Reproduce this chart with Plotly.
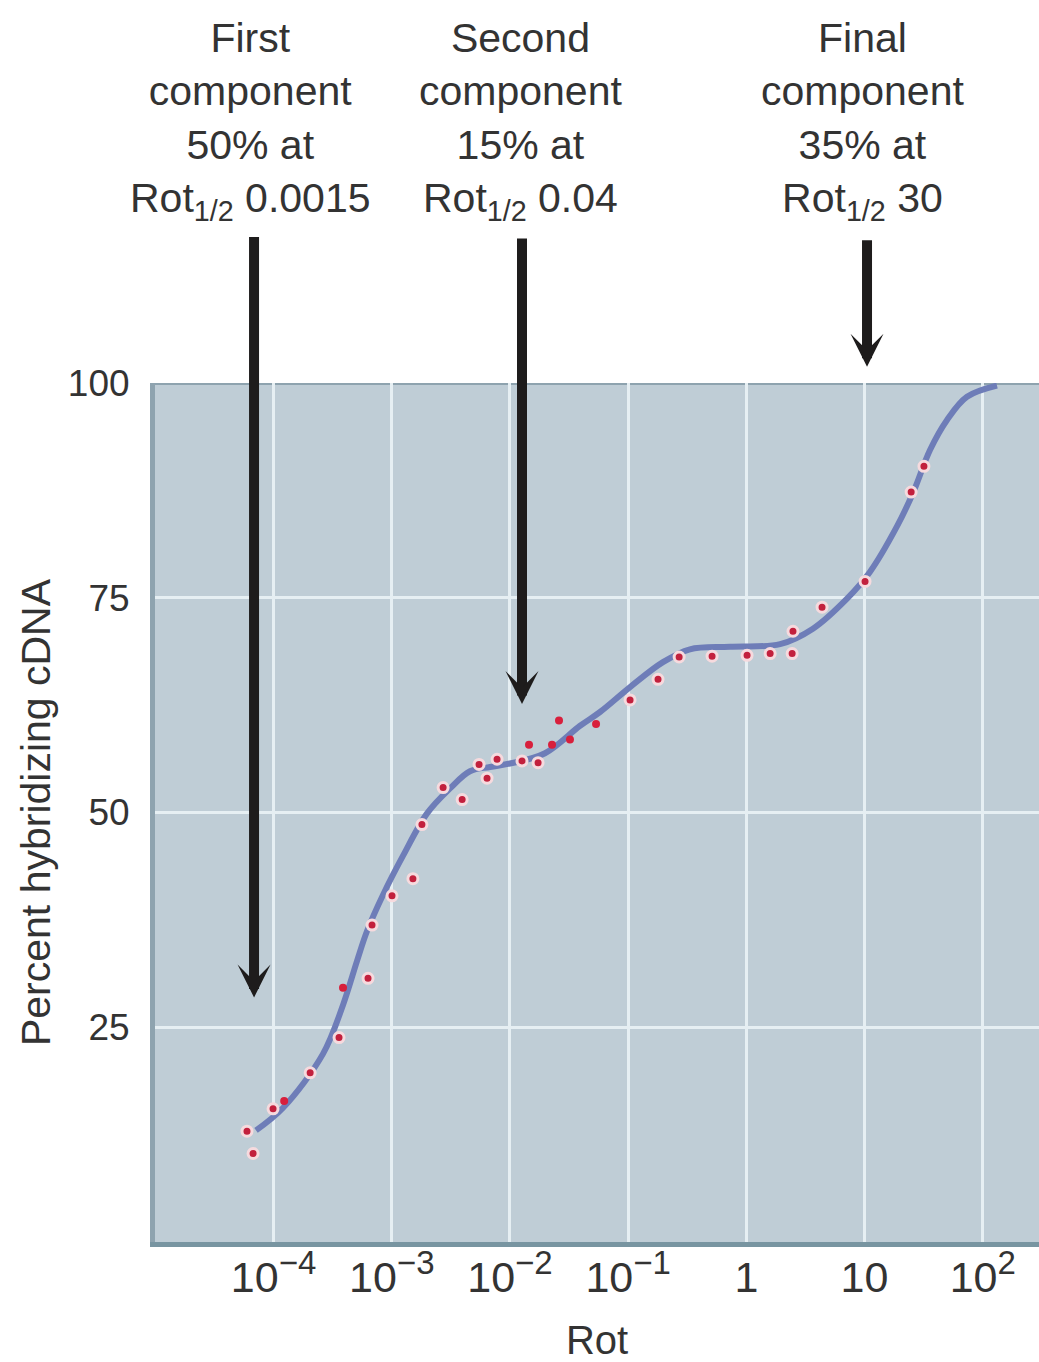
import plotly.graph_objects as go

# measured points (with pale halo)
rot_pts = [5.96e-5, 6.71e-5, 9.9e-5, 2.04e-4, 3.58e-4, 6.30e-4, 6.81e-4, 1.005e-3, 1.51e-3,
           1.80e-3, 2.72e-3, 3.94e-3, 5.48e-3, 6.40e-3, 7.78e-3, 0.01265, 0.0173, 0.1038,
           0.179, 0.270, 0.513, 1.014, 1.59, 2.44, 2.48, 4.37, 10.1, 24.8, 31.8]
pct_pts = [12.9, 10.3, 15.5, 19.7, 23.8, 30.7, 36.9, 40.3, 42.3,
           48.6, 52.9, 51.5, 55.6, 54.0, 56.2, 56.0, 55.8, 63.1,
           65.5, 68.1, 68.2, 68.3, 68.5, 68.5, 71.1, 73.9, 76.9, 87.3, 90.3]

# plain red points (no halo)
rot_plain = [1.23e-4, 3.87e-4, 0.0145, 0.0227, 0.0260, 0.0322, 0.0535]
pct_plain = [16.4, 29.6, 57.9, 57.9, 60.7, 58.5, 60.3]

# fitted curve
rot_curve = [7.11e-5, 1.20e-4, 2.62e-4, 3.87e-4, 5.08e-4, 6.18e-4, 8.43e-4, 1.25e-3,
             1.99e-3, 3.11e-3, 4.59e-3, 6.79e-3, 0.0100, 0.0198, 0.0392, 0.0578, 0.1038,
             0.197, 0.333, 0.726, 1.93, 3.66, 7.11, 11.1, 18.8, 25.7, 35.8, 49.9, 73.6, 132]
pct_curve = [13.0, 15.6, 21.9, 27.6, 32.7, 36.2, 40.4, 45.0,
             49.9, 52.8, 54.8, 55.3, 55.7, 56.9, 60.1, 61.7, 64.6,
             67.5, 69.0, 69.3, 69.6, 71.4, 74.9, 78.0, 83.3, 87.2, 92.2, 95.7, 98.4, 99.7]

x_ticks = [1e-4, 1e-3, 1e-2, 1e-1, 1, 10, 100]
x_exp = ["−4", "−3", "−2", "−1", None, None, "2"]
y_ticks = [25, 50, 75, 100]

# component labels / arrows (log10 Rot position)
labels = ["First<br>component<br>50% at<br>Rot<sub>1/2</sub> 0.0015",
          "Second<br>component<br>15% at<br>Rot<sub>1/2</sub> 0.04",
          "Final<br>component<br>35% at<br>Rot<sub>1/2</sub> 30"]
label_x = [-4.199, -1.913, 0.983]
arrow_x = [-4.165, -1.898, 1.021]
arrow_tip = [0.2845, 0.6263, 1.019]   # fraction of plot height
arrow_len = [762, 467, 128]           # px

FONT = "Liberation Sans, Arial, sans-serif"
TXT = "#333333"

x_ticktext = []
for v, e in zip(x_ticks, x_exp):
    if e is None:
        x_ticktext.append(f"{v:g}")
    else:
        x_ticktext.append(f"10<sup><span style='font-size:33px'>{e}</span></sup>")

fig = go.Figure()

fig.add_trace(go.Scatter(
    x=rot_curve, y=pct_curve, mode="lines",
    line=dict(color="#6e7db8", width=6, shape="spline", smoothing=1.0), hoverinfo="skip"))

fig.add_trace(go.Scatter(
    x=rot_pts, y=pct_pts, mode="markers",
    marker=dict(color="#c2203d", size=10, line=dict(color="#f6dade", width=3))))

fig.add_trace(go.Scatter(
    x=rot_plain, y=pct_plain, mode="markers",
    marker=dict(color="#d81f3c", size=8)))

annotations = []
for lx, txt in zip(label_x, labels):
    annotations.append(dict(
        x=lx, y=1.3053, xref="x", yref="paper", text=txt, showarrow=False,
        xanchor="center", yanchor="middle",
        font=dict(family=FONT, size=41, color=TXT)))
for axp, tip, ln in zip(arrow_x, arrow_tip, arrow_len):
    annotations.append(dict(
        x=axp, y=tip, xref="x", yref="paper", ax=0, ay=-ln,
        text="", showarrow=True, arrowhead=3, arrowsize=0.55, arrowwidth=10,
        arrowcolor="#1e1c1c", standoff=0))

fig.update_layout(
    width=1039, height=1362,
    margin=dict(l=155, r=0, t=383, b=116),
    paper_bgcolor="white", plot_bgcolor="#bfcdd6",
    showlegend=False,
    font=dict(family=FONT, color=TXT),
    annotations=annotations,
    shapes=[dict(type="line", xref="paper", yref="y", x0=0, x1=1, y0=100, y1=100,
                 line=dict(color="#8ea3af", width=4), layer="between")],
    xaxis=dict(
        type="log", range=[-5.003, 2.476],
        tickvals=x_ticks, ticktext=x_ticktext,
        showgrid=True, gridcolor="#e6eff3", gridwidth=3, zeroline=False,
        showline=True, linecolor="#7895a1", linewidth=5, ticks="",
        tickfont=dict(size=43, color=TXT), ticklabelstandoff=-7,
        title=dict(text="Rot", font=dict(size=40, color=TXT), standoff=33)),
    yaxis=dict(
        range=[0, 100], tickvals=y_ticks,
        showgrid=True, gridcolor="#e6eff3", gridwidth=3, zeroline=False,
        showline=True, linecolor="#8ea3af", linewidth=5, ticks="",
        tickfont=dict(size=37, color=TXT), ticklabelstandoff=13,
        title=dict(text="Percent hybridizing cDNA", font=dict(size=41, color=TXT), standoff=6)),
)

fig.write_html("out.html", config={"displayModeBar": False},
               post_script="document.body.style.margin='0';")
